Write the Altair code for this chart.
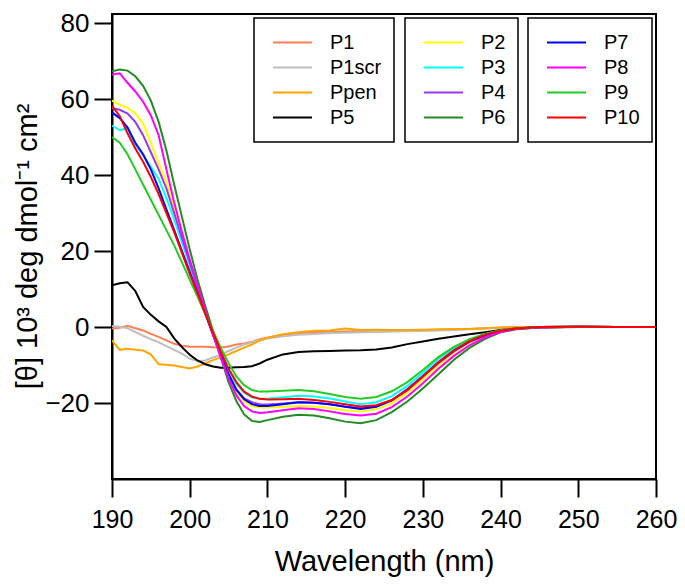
import altair as alt
import pandas as pd

wavelength = [190, 191, 192, 193, 194, 195, 196, 197, 198, 199, 200, 201, 202, 203, 204,
              205, 206, 207, 208, 209, 210, 212, 214, 216, 218, 220, 222, 224, 226, 228,
              230, 232, 234, 236, 238, 240, 242, 245, 250, 255, 260]

p1 = [-0.4, -0.2, 0.3, -0.3, -0.9, -1.8, -2.6, -3.5, -4.4, -4.9, -5.2, -5.2, -5.2, -5.3, -5.4,
      -5.1, -4.6, -4.3, -3.9, -3.2, -2.8, -2.1, -1.6, -1.4, -1.3, -1.2, -1.1, -1.0, -1.0, -0.9,
      -0.9, -0.8, -0.6, -0.5, -0.3, -0.2, -0.1, 0.0, 0.1, 0.0, 0.0]
p1scr = [0.3, 0.1, -0.3, -1.3, -2.3, -3.2, -4.0, -5.0, -6.0, -7.0, -8.3, -9.0, -8.8, -8.0, -7.3,
         -6.3, -5.4, -4.6, -4.0, -3.4, -3.0, -2.4, -2.0, -1.8, -1.6, -1.5, -1.4, -1.3, -1.2, -1.1,
         -1.0, -0.9, -0.8, -0.6, -0.4, -0.2, -0.1, 0.0, 0.1, 0.0, 0.0]
ppen = [-3.5, -6.0, -5.7, -6.0, -6.2, -7.2, -9.8, -9.9, -10.1, -10.5, -10.9, -10.4, -9.6, -8.7, -8.0,
        -7.2, -6.3, -5.4, -4.6, -3.6, -2.8, -1.9, -1.4, -1.0, -0.9, -0.4, -0.8, -0.7, -0.8, -0.8,
        -0.7, -0.6, -0.5, -0.5, -0.3, -0.1, 0.0, 0.0, 0.1, 0.0, 0.0]
p5 = [11.0, 11.5, 11.8, 9.5, 5.3, 3.2, 1.5, 0.0, -3.0, -5.3, -7.3, -8.8, -9.8, -10.4, -10.7,
      -10.7, -10.6, -10.5, -10.3, -9.6, -8.6, -7.2, -6.6, -6.4, -6.3, -6.2, -6.1, -5.9, -5.4, -4.5,
      -3.8, -3.1, -2.5, -1.9, -1.4, -0.8, -0.4, -0.1, 0.0, 0.0, 0.0]
p2 = [59.6, 58.5, 57.7, 56.3, 53.5, 48.5, 43.0, 38.3, 31.0, 24.0, 17.0, 10.5, 4.0, -2.0, -8.0,
      -13.0, -17.0, -19.5, -20.8, -21.2, -21.2, -21.0, -20.8, -20.9, -21.3, -21.9, -22.2, -21.6, -20.1, -17.3,
      -13.8, -10.1, -6.8, -4.2, -2.4, -1.1, -0.4, 0.0, 0.1, 0.0, 0.0]
p3 = [53.0, 51.8, 52.4, 48.0, 45.2, 42.2, 39.0, 34.0, 28.3, 22.3, 16.2, 10.2, 4.2, -1.5, -7.0,
      -11.5, -15.0, -17.3, -18.5, -18.9, -18.9, -18.5, -18.1, -18.3, -18.8, -19.6, -20.3, -19.8, -18.2, -15.5,
      -12.0, -8.4, -5.6, -3.4, -1.8, -0.9, -0.4, 0.0, 0.1, 0.0, 0.0]
p4 = [57.6, 57.2, 56.2, 54.0, 50.5, 46.0, 41.5, 36.5, 30.0, 23.5, 17.0, 10.5, 4.0, -2.0, -7.5,
      -12.5, -16.5, -18.8, -19.8, -20.3, -20.4, -20.1, -19.8, -19.9, -20.3, -20.9, -21.3, -20.9, -19.3, -16.6,
      -13.1, -9.5, -6.4, -3.9, -2.2, -1.0, -0.4, 0.0, 0.1, 0.0, 0.0]
p6 = [67.3, 67.8, 67.5, 66.0, 63.5, 59.6, 54.0, 46.5, 37.5, 29.0, 20.5, 12.5, 5.5, -1.0, -8.0,
      -14.5, -19.5, -23.0, -24.7, -25.0, -24.5, -23.6, -23.1, -23.3, -24.0, -24.9, -25.3, -24.5, -22.4, -19.6,
      -16.2, -12.4, -8.6, -5.5, -3.1, -1.4, -0.6, -0.1, 0.1, 0.0, 0.0]
p7 = [56.5, 55.0, 52.5, 48.5, 45.5, 41.5, 36.5, 31.0, 25.5, 20.0, 14.5, 9.0, 3.5, -2.0, -7.5,
      -12.5, -16.5, -19.0, -20.3, -20.8, -20.8, -20.3, -19.8, -19.9, -20.3, -21.0, -21.6, -21.0, -19.3, -16.4,
      -12.9, -9.3, -6.2, -3.8, -2.1, -1.0, -0.4, 0.0, 0.1, 0.0, 0.0]
p8 = [66.5, 66.8, 64.3, 62.0, 59.3, 55.7, 50.5, 41.5, 32.8, 25.0, 17.8, 11.0, 4.5, -2.0, -8.0,
      -13.5, -18.0, -20.8, -22.2, -22.6, -22.4, -21.9, -21.4, -21.6, -22.2, -22.9, -23.3, -22.8, -21.1, -18.3,
      -14.8, -11.0, -7.6, -4.8, -2.7, -1.3, -0.5, -0.1, 0.1, 0.0, 0.0]
p9 = [50.0, 48.5, 45.5, 41.5, 37.5, 33.5, 29.5, 25.5, 21.5, 17.0, 12.5, 8.0, 3.5, -1.0, -5.5,
      -9.5, -13.0, -15.3, -16.6, -17.0, -17.0, -16.8, -16.6, -16.9, -17.6, -18.4, -18.9, -18.4, -16.9, -14.5,
      -11.3, -7.9, -5.2, -3.2, -1.8, -0.9, -0.4, 0.0, 0.1, 0.0, 0.0]
p10 = [58.2, 55.5, 51.0, 47.0, 43.5, 39.5, 35.0, 30.0, 25.0, 19.5, 14.0, 9.0, 3.5, -1.5, -6.5,
       -11.0, -14.5, -17.0, -18.3, -18.9, -19.1, -19.0, -18.9, -19.2, -19.7, -20.3, -20.9, -20.6, -19.2, -16.6,
       -13.0, -9.3, -6.1, -3.7, -2.0, -1.0, -0.4, 0.0, 0.1, 0.0, 0.0]

names_1 = ["P1", "P1scr", "Ppen", "P5"]
colors_1 = ["#ff7f50", "#bebebe", "#ffa500", "#000000"]
series_1 = [p1, p1scr, ppen, p5]

names_2 = ["P2", "P3", "P4", "P6"]
colors_2 = ["#ffff00", "#00ffff", "#9a3ae6", "#228b22"]
series_2 = [p2, p3, p4, p6]

names_3 = ["P7", "P8", "P9", "P10"]
colors_3 = ["#0000ff", "#ff00ff", "#22cc22", "#ff0000"]
series_3 = [p7, p8, p9, p10]

x_ticks = [190, 200, 210, 220, 230, 240, 250, 260]
y_ticks = [-20, 0, 20, 40, 60, 80]

FONT = "Liberation Sans"


def make_df(names, series):
    rows = []
    for n, vals in zip(names, series):
        for w, v in zip(wavelength, vals):
            rows.append({"wl": w, "val": v, "series": n})
    return pd.DataFrame(rows)


x_enc = alt.X("wl:Q",
              scale=alt.Scale(domain=[190, 260], nice=False, zero=False),
              axis=alt.Axis(values=x_ticks, format="d", title="Wavelength (nm)",
                            labelFontSize=25, titleFontSize=29, tickSize=18,
                            labelPadding=10, labelFlush=False,
                            titleBaseline="alphabetic", titleY=91))
y_enc = alt.Y("val:Q",
              scale=alt.Scale(domain=[-40, 82.4], nice=False, zero=False),
              axis=alt.Axis(values=y_ticks, format="d",
                            title="[θ] 10³ deg dmol⁻¹ cm²",
                            labelFontSize=26, titleFontSize=29, tickSize=18,
                            labelPadding=5, labelFlush=False, titleBaseline="middle",
                            titleX=-85, titleY=232))


def layer(names, colors, series, lx):
    return alt.Chart(make_df(names, series)).mark_line(strokeWidth=2, clip=True).encode(
        x=x_enc,
        y=y_enc,
        color=alt.Color("series:N",
                        scale=alt.Scale(domain=names, range=colors),
                        legend=alt.Legend(title=None, orient="none", legendX=lx, legendY=4,
                                          symbolType="stroke", symbolSize=1521,
                                          symbolStrokeWidth=2, clipHeight=25, rowPadding=0,
                                          labelFontSize=20, labelOffset=17, padding=12,
                                          symbolOffset=6, strokeColor="black",
                                          labelFont=FONT, labelColor="black", labelLimit=300)),
    )


chart = alt.layer(
    layer(names_1, colors_1, series_1, 142),
    layer(names_2, colors_2, series_2, 293),
    layer(names_3, colors_3, series_3, 416),
).resolve_scale(color="independent").properties(
    width=544, height=465,
    padding={"left": 104, "top": 6, "right": 21, "bottom": 98},
    autosize=alt.AutoSizeParams(type="none"),
).configure_view(
    stroke="black", strokeWidth=2
).configure_axis(
    grid=False, labelFont=FONT, titleFont=FONT, labelColor="black", titleColor="black",
    domainColor="black", domainWidth=2, tickColor="black", tickWidth=2,
    titleFontWeight="normal"
).configure_legend(
    strokeWidth=1.5
)

chart.save("out.html", embed_options={"renderer": "svg", "actions": False})
